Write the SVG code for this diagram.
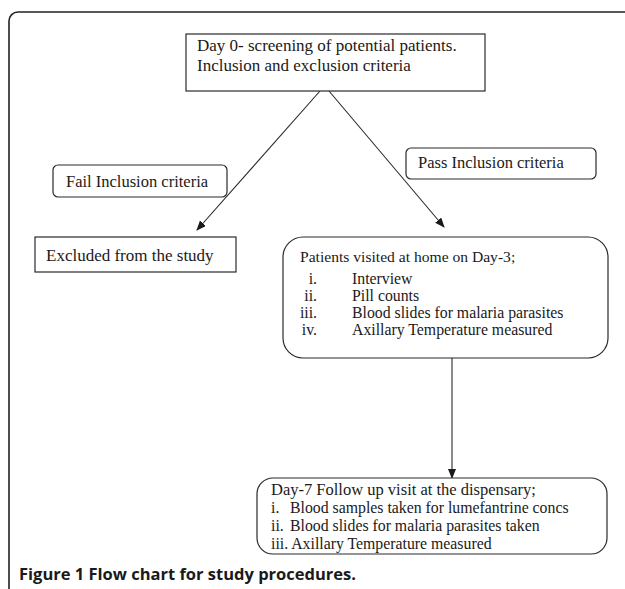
<svg xmlns="http://www.w3.org/2000/svg" width="625" height="589" viewBox="0 0 625 589">
<defs>
<style>
.t{font-family:"Liberation Serif","Times New Roman",serif;font-size:16.5px;fill:#1a1a1a}
.s{font-family:"Liberation Serif","Times New Roman",serif;font-size:15.8px;fill:#1a1a1a}
.box{fill:#fff;stroke:#2a2a2a;stroke-width:1.2}
.ln{stroke:#2a2a2a;stroke-width:1.1;fill:none}
.cap{font-family:"Open Sans","Noto Sans",sans-serif;font-weight:bold;font-size:16.5px;fill:#1a1a1a}
</style>
<marker id="ah" markerWidth="10" markerHeight="10" refX="9" refY="4" orient="auto" markerUnits="userSpaceOnUse">
<path d="M0,0 L10,4 L0,8 z" fill="#1a1a1a"/>
</marker>
</defs>
<rect width="625" height="589" fill="#fff"/>
<rect x="9" y="12" width="700" height="700" rx="9" fill="none" stroke="#222" stroke-width="1.6"/>
<g id="connectors">
<line class="ln" x1="320" y1="91" x2="197" y2="230" marker-end="url(#ah)"/>
<line class="ln" x1="329" y1="91" x2="444" y2="227" marker-end="url(#ah)"/>
<line class="ln" x1="452" y1="358" x2="452" y2="478" marker-end="url(#ah)"/>
</g>
<g id="n-screening">
<rect class="box" x="186" y="34" width="299" height="57"/>
<text class="t" x="197" y="51" style="font-size:17px">Day 0- screening of potential patients.</text>
<text class="t" x="197" y="71" style="font-size:17px">Inclusion and exclusion criteria</text>
</g>
<g id="n-fail">
<rect class="box" x="53" y="165" width="174" height="32" rx="5"/>
<text class="t" x="66" y="187">Fail Inclusion criteria</text>
</g>
<g id="n-pass">
<rect class="box" x="406" y="148" width="190" height="31" rx="5"/>
<text class="t" x="418" y="168">Pass Inclusion criteria</text>
</g>
<g id="n-excluded">
<rect class="box" x="35" y="237" width="201" height="35"/>
<text class="t" x="46" y="261" style="font-size:17px">Excluded from the study</text>
</g>
<g id="n-day3">
<rect class="box" x="283" y="237" width="325" height="121" rx="20"/>
<text class="t" x="300" y="262" style="font-size:15.6px">Patients visited at home on Day-3;</text>
<g class="s">
<text x="317" y="284" text-anchor="end">i.</text><text x="352" y="284">Interview</text>
<text x="317" y="301" text-anchor="end">ii.</text><text x="352" y="301">Pill counts</text>
<text x="317" y="318" text-anchor="end">iii.</text><text x="352" y="318">Blood slides for malaria parasites</text>
<text x="317" y="335" text-anchor="end">iv.</text><text x="352" y="335">Axillary Temperature measured</text>
</g>
</g>
<g id="n-day7">
<rect class="box" x="257" y="478" width="350" height="76" rx="16"/>
<text class="t" x="271" y="495">Day-7 Follow up visit at the dispensary;</text>
<g class="s">
<text x="271" y="513">i.</text><text x="290" y="513">Blood samples taken for lumefantrine concs</text>
<text x="271" y="531">ii.</text><text x="290" y="531">Blood slides for malaria parasites taken</text>
<text x="271" y="549">iii. Axillary Temperature measured</text>
</g>
</g>
<text class="cap" x="19" y="580">Figure 1 Flow chart for study procedures.</text>
</svg>
